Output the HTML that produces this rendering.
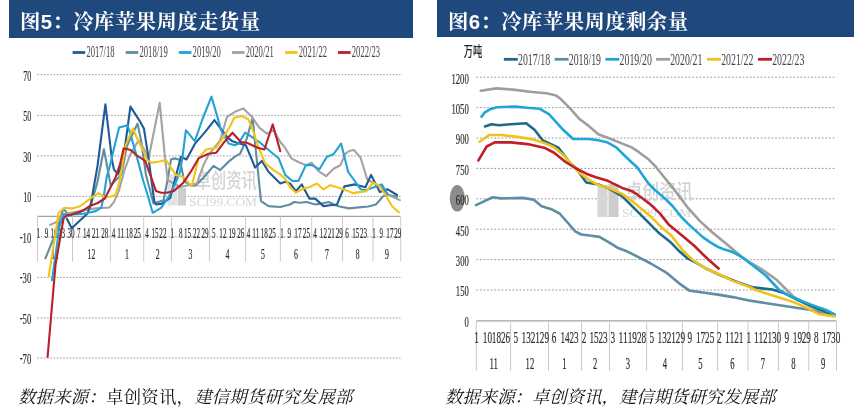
<!DOCTYPE html>
<html lang="zh-CN"><head><meta charset="utf-8"><title>冷库苹果周度走货量与剩余量</title>
<style>
html,body{margin:0;padding:0;background:#fff;}
body{width:856px;height:418px;position:relative;overflow:hidden;}
.banner{position:absolute;top:0;background:#1f497d;color:#fff;height:37.5px;}
.banner span{will-change:transform;position:absolute;top:10.2px;left:11px;white-space:nowrap;font-family:"Liberation Sans","Noto Serif CJK SC",serif;font-weight:bold;font-size:20.4px;line-height:24px;letter-spacing:0.4px;}
#b1{left:9px;width:404px;}
#b2{left:437px;width:417px;height:37.3px;}
svg{position:absolute;left:0;top:0;will-change:transform;}
.grid{stroke:#9a9a9a;stroke-width:1;stroke-dasharray:1.6 1.6;}
.grid2{stroke:#9a9a9a;stroke-width:1;stroke-dasharray:1.8 1.8;}
.axis{stroke:#a2a2a2;stroke-width:1.15;}
.sep{stroke:#c8c8c8;stroke-width:0.95;}
.ln{fill:none;stroke-width:2.1;stroke-linejoin:round;stroke-linecap:round;}
.ln2{fill:none;stroke-width:2.6;stroke-linejoin:round;stroke-linecap:round;}
.lg{stroke-width:2.8;}
text{font-family:"Liberation Serif","Noto Serif CJK SC",serif;fill:#2a2a2a;stroke:#2a2a2a;stroke-width:0.18px;}
.lgt{fill:#454545;stroke:none;}
.wmt,.wmt2,.wd{stroke:none;}
.wd{font-family:"Liberation Sans","Noto Sans CJK SC",sans-serif;font-weight:500;fill:#1a1a1a;}
.wm rect{fill:#cfcfcf;}
.wmt{font-family:"Liberation Sans","Noto Sans CJK SC",sans-serif;fill:#d3d3d3;font-weight:500;}
.wmt2{font-family:"Liberation Serif",serif;fill:#d6d6d6;}
.src{will-change:transform;position:absolute;top:387px;white-space:nowrap;font-family:"Liberation Serif","Noto Serif CJK SC",serif;font-size:17.4px;line-height:20px;color:#111;}
.src i{font-style:italic;}
</style></head>
<body>
<div class="banner" id="b1"><span>图5：冷库苹果周度走货量</span></div>
<div class="banner" id="b2"><span>图6：冷库苹果周度剩余量</span></div>
<svg width="856" height="418" viewBox="0 0 856 418">
<line x1="37.5" y1="74.7" x2="400.5" y2="74.7" class="grid"/>
<line x1="37.5" y1="115.3" x2="400.5" y2="115.3" class="grid"/>
<line x1="37.5" y1="155.9" x2="400.5" y2="155.9" class="grid"/>
<line x1="37.5" y1="196.4" x2="400.5" y2="196.4" class="grid"/>
<line x1="37.5" y1="236.9" x2="400.5" y2="236.9" class="grid"/>
<line x1="37.5" y1="277.4" x2="400.5" y2="277.4" class="grid"/>
<line x1="37.5" y1="317.9" x2="400.5" y2="317.9" class="grid"/>
<line x1="37.5" y1="358.0" x2="400.5" y2="358.0" class="grid"/>
<text x="31.3" y="80.5" text-anchor="end" font-size="15" class="n" textLength="8.1" lengthAdjust="spacingAndGlyphs">70</text>
<text x="31.3" y="121.1" text-anchor="end" font-size="15" class="n" textLength="8.1" lengthAdjust="spacingAndGlyphs">50</text>
<text x="31.3" y="161.7" text-anchor="end" font-size="15" class="n" textLength="8.1" lengthAdjust="spacingAndGlyphs">30</text>
<text x="31.3" y="202.2" text-anchor="end" font-size="15" class="n" textLength="8.1" lengthAdjust="spacingAndGlyphs">10</text>
<text x="31.3" y="242.7" text-anchor="end" font-size="15" class="n" textLength="11.6" lengthAdjust="spacingAndGlyphs"><tspan dy="-1.8">-</tspan><tspan dy="1.8">10</tspan></text>
<text x="31.3" y="283.2" text-anchor="end" font-size="15" class="n" textLength="11.6" lengthAdjust="spacingAndGlyphs"><tspan dy="-1.8">-</tspan><tspan dy="1.8">30</tspan></text>
<text x="31.3" y="323.7" text-anchor="end" font-size="15" class="n" textLength="11.6" lengthAdjust="spacingAndGlyphs"><tspan dy="-1.8">-</tspan><tspan dy="1.8">50</tspan></text>
<text x="31.3" y="363.8" text-anchor="end" font-size="15" class="n" textLength="11.6" lengthAdjust="spacingAndGlyphs"><tspan dy="-1.8">-</tspan><tspan dy="1.8">70</tspan></text>
<line x1="37.5" y1="216.3" x2="400.5" y2="216.3" class="axis"/>
<line x1="37.5" y1="216.3" x2="37.5" y2="261.5" class="sep"/>
<line x1="72.5" y1="216.3" x2="72.5" y2="261.5" class="sep"/>
<line x1="110.4" y1="216.3" x2="110.4" y2="261.5" class="sep"/>
<line x1="143.7" y1="216.3" x2="143.7" y2="261.5" class="sep"/>
<line x1="171.5" y1="216.3" x2="171.5" y2="261.5" class="sep"/>
<line x1="209.5" y1="216.3" x2="209.5" y2="261.5" class="sep"/>
<line x1="245.6" y1="216.3" x2="245.6" y2="261.5" class="sep"/>
<line x1="280.4" y1="216.3" x2="280.4" y2="261.5" class="sep"/>
<line x1="311.7" y1="216.3" x2="311.7" y2="261.5" class="sep"/>
<line x1="342.5" y1="216.3" x2="342.5" y2="261.5" class="sep"/>
<line x1="373" y1="216.3" x2="373" y2="261.5" class="sep"/>
<line x1="400.7" y1="216.3" x2="400.7" y2="261.5" class="sep"/>
<text x="38.6" y="237.6" text-anchor="middle" font-size="14.8" class="n" textLength="3.5" lengthAdjust="spacingAndGlyphs">1</text>
<text x="46.5" y="237.6" text-anchor="middle" font-size="14.8" class="n" textLength="3.5" lengthAdjust="spacingAndGlyphs">9</text>
<text x="54.0" y="237.6" text-anchor="middle" font-size="14.8" class="n" textLength="7.1" lengthAdjust="spacingAndGlyphs">16</text>
<text x="61.5" y="237.6" text-anchor="middle" font-size="14.8" class="n" textLength="7.1" lengthAdjust="spacingAndGlyphs">23</text>
<text x="71.0" y="237.6" text-anchor="middle" font-size="14.8" class="n" textLength="7.1" lengthAdjust="spacingAndGlyphs">30</text>
<text x="78.7" y="237.6" text-anchor="middle" font-size="14.8" class="n" textLength="3.5" lengthAdjust="spacingAndGlyphs">7</text>
<text x="86.6" y="237.6" text-anchor="middle" font-size="14.8" class="n" textLength="7.1" lengthAdjust="spacingAndGlyphs">14</text>
<text x="95.6" y="237.6" text-anchor="middle" font-size="14.8" class="n" textLength="7.1" lengthAdjust="spacingAndGlyphs">21</text>
<text x="104.8" y="237.6" text-anchor="middle" font-size="14.8" class="n" textLength="7.1" lengthAdjust="spacingAndGlyphs">28</text>
<text x="113.6" y="237.6" text-anchor="middle" font-size="14.8" class="n" textLength="3.5" lengthAdjust="spacingAndGlyphs">4</text>
<text x="120.8" y="237.6" text-anchor="middle" font-size="14.8" class="n" textLength="7.1" lengthAdjust="spacingAndGlyphs">11</text>
<text x="129.3" y="237.6" text-anchor="middle" font-size="14.8" class="n" textLength="7.1" lengthAdjust="spacingAndGlyphs">18</text>
<text x="137.2" y="237.6" text-anchor="middle" font-size="14.8" class="n" textLength="7.1" lengthAdjust="spacingAndGlyphs">25</text>
<text x="147.1" y="237.6" text-anchor="middle" font-size="14.8" class="n" textLength="3.5" lengthAdjust="spacingAndGlyphs">4</text>
<text x="155.0" y="237.6" text-anchor="middle" font-size="14.8" class="n" textLength="7.1" lengthAdjust="spacingAndGlyphs">15</text>
<text x="162.9" y="237.6" text-anchor="middle" font-size="14.8" class="n" textLength="7.1" lengthAdjust="spacingAndGlyphs">22</text>
<text x="172.2" y="237.6" text-anchor="middle" font-size="14.8" class="n" textLength="3.5" lengthAdjust="spacingAndGlyphs">1</text>
<text x="180.8" y="237.6" text-anchor="middle" font-size="14.8" class="n" textLength="3.5" lengthAdjust="spacingAndGlyphs">8</text>
<text x="187.6" y="237.6" text-anchor="middle" font-size="14.8" class="n" textLength="7.1" lengthAdjust="spacingAndGlyphs">15</text>
<text x="196.6" y="237.6" text-anchor="middle" font-size="14.8" class="n" textLength="7.1" lengthAdjust="spacingAndGlyphs">22</text>
<text x="205.1" y="237.6" text-anchor="middle" font-size="14.8" class="n" textLength="7.1" lengthAdjust="spacingAndGlyphs">29</text>
<text x="213.7" y="237.6" text-anchor="middle" font-size="14.8" class="n" textLength="3.5" lengthAdjust="spacingAndGlyphs">5</text>
<text x="222.9" y="237.6" text-anchor="middle" font-size="14.8" class="n" textLength="7.1" lengthAdjust="spacingAndGlyphs">12</text>
<text x="232.1" y="237.6" text-anchor="middle" font-size="14.8" class="n" textLength="7.1" lengthAdjust="spacingAndGlyphs">19</text>
<text x="240.7" y="237.6" text-anchor="middle" font-size="14.8" class="n" textLength="7.1" lengthAdjust="spacingAndGlyphs">26</text>
<text x="248.6" y="237.6" text-anchor="middle" font-size="14.8" class="n" textLength="3.5" lengthAdjust="spacingAndGlyphs">4</text>
<text x="255.8" y="237.6" text-anchor="middle" font-size="14.8" class="n" textLength="7.1" lengthAdjust="spacingAndGlyphs">11</text>
<text x="264.3" y="237.6" text-anchor="middle" font-size="14.8" class="n" textLength="7.1" lengthAdjust="spacingAndGlyphs">18</text>
<text x="272.2" y="237.6" text-anchor="middle" font-size="14.8" class="n" textLength="7.1" lengthAdjust="spacingAndGlyphs">25</text>
<text x="282.1" y="237.6" text-anchor="middle" font-size="14.8" class="n" textLength="3.5" lengthAdjust="spacingAndGlyphs">1</text>
<text x="289.3" y="237.6" text-anchor="middle" font-size="14.8" class="n" textLength="3.5" lengthAdjust="spacingAndGlyphs">9</text>
<text x="297.9" y="237.6" text-anchor="middle" font-size="14.8" class="n" textLength="7.1" lengthAdjust="spacingAndGlyphs">17</text>
<text x="306.4" y="237.6" text-anchor="middle" font-size="14.8" class="n" textLength="7.1" lengthAdjust="spacingAndGlyphs">25</text>
<text x="314.9" y="237.6" text-anchor="middle" font-size="14.8" class="n" textLength="3.5" lengthAdjust="spacingAndGlyphs">4</text>
<text x="323.4" y="237.6" text-anchor="middle" font-size="14.8" class="n" textLength="7.1" lengthAdjust="spacingAndGlyphs">12</text>
<text x="331.3" y="237.6" text-anchor="middle" font-size="14.8" class="n" textLength="7.1" lengthAdjust="spacingAndGlyphs">21</text>
<text x="339.2" y="237.6" text-anchor="middle" font-size="14.8" class="n" textLength="7.1" lengthAdjust="spacingAndGlyphs">29</text>
<text x="347.1" y="237.6" text-anchor="middle" font-size="14.8" class="n" textLength="3.5" lengthAdjust="spacingAndGlyphs">6</text>
<text x="355.7" y="237.6" text-anchor="middle" font-size="14.8" class="n" textLength="7.1" lengthAdjust="spacingAndGlyphs">15</text>
<text x="363.6" y="237.6" text-anchor="middle" font-size="14.8" class="n" textLength="7.1" lengthAdjust="spacingAndGlyphs">23</text>
<text x="374.1" y="237.6" text-anchor="middle" font-size="14.8" class="n" textLength="3.5" lengthAdjust="spacingAndGlyphs">1</text>
<text x="381.3" y="237.6" text-anchor="middle" font-size="14.8" class="n" textLength="3.5" lengthAdjust="spacingAndGlyphs">9</text>
<text x="389.9" y="237.6" text-anchor="middle" font-size="14.8" class="n" textLength="7.1" lengthAdjust="spacingAndGlyphs">17</text>
<text x="397.8" y="237.6" text-anchor="middle" font-size="14.8" class="n" textLength="7.1" lengthAdjust="spacingAndGlyphs">29</text>
<text x="55.0" y="258.7" text-anchor="middle" font-size="14.3" class="n" textLength="7.8" lengthAdjust="spacingAndGlyphs">11</text>
<text x="91.5" y="258.7" text-anchor="middle" font-size="14.3" class="n" textLength="7.8" lengthAdjust="spacingAndGlyphs">12</text>
<text x="127.0" y="258.7" text-anchor="middle" font-size="14.3" class="n" textLength="3.9" lengthAdjust="spacingAndGlyphs">1</text>
<text x="157.6" y="258.7" text-anchor="middle" font-size="14.3" class="n" textLength="3.9" lengthAdjust="spacingAndGlyphs">2</text>
<text x="190.5" y="258.7" text-anchor="middle" font-size="14.3" class="n" textLength="3.9" lengthAdjust="spacingAndGlyphs">3</text>
<text x="227.5" y="258.7" text-anchor="middle" font-size="14.3" class="n" textLength="3.9" lengthAdjust="spacingAndGlyphs">4</text>
<text x="263.0" y="258.7" text-anchor="middle" font-size="14.3" class="n" textLength="3.9" lengthAdjust="spacingAndGlyphs">5</text>
<text x="296.0" y="258.7" text-anchor="middle" font-size="14.3" class="n" textLength="3.9" lengthAdjust="spacingAndGlyphs">6</text>
<text x="327.0" y="258.7" text-anchor="middle" font-size="14.3" class="n" textLength="3.9" lengthAdjust="spacingAndGlyphs">7</text>
<text x="357.7" y="258.7" text-anchor="middle" font-size="14.3" class="n" textLength="3.9" lengthAdjust="spacingAndGlyphs">8</text>
<text x="387.0" y="258.7" text-anchor="middle" font-size="14.3" class="n" textLength="3.9" lengthAdjust="spacingAndGlyphs">9</text>
<rect x="167.5" y="174" width="10" height="31.5" fill="#e2e2e2"/><rect x="178" y="188" width="8" height="17.5" fill="#cdcdcd"/>
<text x="195.5" y="188" class="wmt" font-size="20.5" textLength="61.5" lengthAdjust="spacingAndGlyphs">卓创资讯</text>
<text x="189" y="205.8" class="wmt2" font-size="12.8" textLength="68" lengthAdjust="spacingAndGlyphs">SCI99.COM</text>
<polyline points="45.4,258.4 57.1,229.6 63.3,208.6 68.0,214.0 80.0,212.0 90.0,208.0 97.2,183.0 103.9,149.3 110.8,185.9 116.5,179.4 121.5,174.4 126.8,146.2 137.5,123.6 141.0,140.1 146.0,175.0 153.5,203.6 163.6,200.3 167.8,178.5 171.1,159.2 175.3,158.4 180.0,160.1 184.2,181.0 191.8,186.0 196.0,185.2 204.3,176.8 213.5,165.9 220.2,170.1 228.6,161.7 235.0,156.7 240.1,153.7 246.8,138.6 252.6,117.7 256.8,160.0 261.0,201.1 268.5,206.1 280.3,207.0 290.0,204.5 294.2,202.0 300.1,202.8 306.8,202.0 315.2,204.5 321.9,203.6 328.6,202.0 335.3,205.3 339.6,206.5 349.1,208.4 358.7,207.4 368.3,206.5 375.9,204.5 383.6,195.9 387.4,194.4 397.0,197.0" stroke="#5f8da2" class="ln"/>
<polyline points="50.1,224.9 57.1,221.8 63.3,214.5 70.8,212.9 83.4,210.2 95.9,208.4 109.4,207.5 113.9,202.1 119.0,190.3 124.3,170.7 130.0,155.0 138.5,140.2 143.6,148.3 148.5,158.7 159.7,102.8 165.2,160.0 167.8,180.2 173.6,183.5 180.0,186.9 185.1,186.0 196.8,183.5 203.5,165.1 208.5,155.0 220.2,140.3 227.0,116.8 235.0,111.8 243.4,108.4 251.8,116.8 259.3,127.7 266.9,133.6 273.6,130.2 280.3,142.0 285.0,147.7 291.7,158.6 298.4,162.0 305.9,165.3 311.8,162.8 318.5,171.2 326.1,176.2 333.6,168.7 340.3,165.3 345.3,153.8 349.1,151.0 353.9,150.0 360.6,157.7 367.3,179.7 373.1,182.5 381.7,187.3 388.4,195.0 399.9,200.1" stroke="#a3a3a3" class="ln"/>
<polyline points="66.9,218.7 71.7,228.3 87.5,213.5 91.0,203.0 97.5,166.0 105.4,104.3 112.0,160.0 113.9,169.4 118.0,174.4 123.0,161.5 130.4,106.6 140.0,121.4 143.9,128.4 148.5,157.9 154.4,202.0 156.0,204.5 161.9,203.6 170.3,197.8 180.9,156.7 186.5,159.5 195.1,143.6 205.2,131.9 214.4,120.2 221.9,130.2 227.0,136.9 232.0,141.1 236.7,142.8 245.9,145.3 250.1,155.4 255.1,167.6 261.8,160.9 268.5,171.8 280.3,183.5 285.3,181.8 290.0,183.5 295.9,191.1 301.8,184.4 309.3,198.6 315.2,198.6 323.5,206.1 330.2,205.3 337.0,204.5 344.4,186.4 354.9,184.4 365.4,187.3 371.1,174.9 379.8,192.1 387.4,189.2 397.0,195.0" stroke="#1f5b96" class="ln"/>
<polyline points="52.0,280.2 59.6,226.0 64.0,214.0 68.0,216.0 72.0,214.5 83.4,213.8 95.9,211.1 101.3,207.5 104.0,194.9 106.7,176.9 110.3,164.4 113.6,150.0 119.1,127.6 127.6,125.3 129.9,132.3 136.9,157.1 143.5,181.8 147.7,195.2 152.7,212.8 161.1,207.8 168.6,196.9 175.3,183.5 180.0,171.8 182.5,157.0 185.9,130.2 194.8,141.1 202.7,118.5 211.5,96.7 216.9,115.1 221.1,130.2 228.6,143.6 235.0,145.3 238.4,143.6 245.1,132.7 251.8,136.9 259.3,142.0 265.2,147.0 271.9,152.8 278.6,158.2 285.3,175.1 292.5,181.0 298.4,181.0 305.9,165.1 311.8,165.1 319.4,169.3 326.9,156.7 333.6,154.2 341.1,143.5 348.2,172.0 360.6,189.2 365.4,190.2 374.0,187.3 381.7,184.4 387.4,194.0" stroke="#22a2d6" class="ln"/>
<polyline points="48.8,276.0 58.7,212.5 64.9,207.8 72.7,208.6 80.0,206.2 83.4,203.9 91.4,197.6 98.6,193.1 104.0,196.7 110.3,196.7 115.7,194.9 119.3,182.3 122.4,165.0 125.3,146.2 133.0,128.4 138.5,141.6 145.0,154.0 146.8,160.1 151.8,162.6 158.5,161.7 166.1,160.1 170.3,166.8 176.1,175.1 182.5,176.8 191.8,186.0 198.5,158.4 206.0,149.5 210.2,148.7 216.1,147.8 223.6,136.9 230.3,126.0 234.2,117.7 241.7,116.0 248.4,119.3 253.5,131.9 257.7,145.3 265.2,163.4 273.6,170.1 280.3,174.3 285.3,179.3 290.0,186.9 295.9,192.7 303.4,188.5 310.1,186.9 316.8,183.5 323.5,189.4 330.2,185.2 334.8,186.4 343.4,189.2 353.0,193.1 366.4,191.1 373.1,182.5 378.8,185.4 385.5,195.0 392.2,206.5 398.9,212.2" stroke="#f2c318" class="ln"/>
<polyline points="47.6,357.0 55.5,265.0 63.6,218.3 67.2,215.0 71.1,214.8 80.0,211.7 83.4,210.2 90.5,205.7 97.7,203.0 104.9,198.5 110.3,187.7 115.7,176.9 120.0,164.4 123.7,148.3 130.7,150.1 137.0,155.5 145.1,160.9 151.0,176.8 156.0,191.1 161.1,192.7 166.9,192.7 173.6,191.1 183.4,182.7 191.8,170.1 198.5,158.4 208.5,153.7 216.1,152.8 223.6,142.8 232.5,132.7 240.9,142.0 246.8,142.8 257.7,147.8 264.4,149.5 272.7,124.4 280.3,151.2" stroke="#b8202a" class="ln"/>
<line x1="72.6" y1="52.5" x2="85.19999999999999" y2="52.5" stroke="#1f5b96" class="lg"/>
<text x="86.4" y="56.9" text-anchor="start" font-size="16.2" class="lgt" textLength="28.2" lengthAdjust="spacingAndGlyphs">2017/18</text>
<line x1="125.7" y1="52.5" x2="138.3" y2="52.5" stroke="#5f8da2" class="lg"/>
<text x="139.5" y="56.9" text-anchor="start" font-size="16.2" class="lgt" textLength="28.2" lengthAdjust="spacingAndGlyphs">2018/19</text>
<line x1="178.8" y1="52.5" x2="191.4" y2="52.5" stroke="#22a2d6" class="lg"/>
<text x="192.6" y="56.9" text-anchor="start" font-size="16.2" class="lgt" textLength="28.2" lengthAdjust="spacingAndGlyphs">2019/20</text>
<line x1="231.9" y1="52.5" x2="244.5" y2="52.5" stroke="#a3a3a3" class="lg"/>
<text x="245.7" y="56.9" text-anchor="start" font-size="16.2" class="lgt" textLength="28.2" lengthAdjust="spacingAndGlyphs">2020/21</text>
<line x1="285" y1="52.5" x2="297.6" y2="52.5" stroke="#f2c318" class="lg"/>
<text x="298.8" y="56.9" text-anchor="start" font-size="16.2" class="lgt" textLength="28.2" lengthAdjust="spacingAndGlyphs">2021/22</text>
<line x1="338" y1="52.5" x2="350.6" y2="52.5" stroke="#b8202a" class="lg"/>
<text x="351.8" y="56.9" text-anchor="start" font-size="16.2" class="lgt" textLength="28.2" lengthAdjust="spacingAndGlyphs">2022/23</text>
<line x1="476.3" y1="77.2" x2="836" y2="77.2" class="grid2"/>
<line x1="476.3" y1="107.6" x2="836" y2="107.6" class="grid2"/>
<line x1="476.3" y1="138.0" x2="836" y2="138.0" class="grid2"/>
<line x1="476.3" y1="168.4" x2="836" y2="168.4" class="grid2"/>
<line x1="476.3" y1="198.8" x2="836" y2="198.8" class="grid2"/>
<line x1="476.3" y1="229.2" x2="836" y2="229.2" class="grid2"/>
<line x1="476.3" y1="259.6" x2="836" y2="259.6" class="grid2"/>
<line x1="476.3" y1="290.0" x2="836" y2="290.0" class="grid2"/>
<ellipse cx="457.3" cy="198.3" rx="7.6" ry="13.2" fill="#8c8c8c"/>
<text x="468.8" y="83.5" text-anchor="end" font-size="15" class="n" textLength="17.4" lengthAdjust="spacingAndGlyphs">1200</text>
<text x="468.8" y="113.9" text-anchor="end" font-size="15" class="n" textLength="17.4" lengthAdjust="spacingAndGlyphs">1050</text>
<text x="468.8" y="144.3" text-anchor="end" font-size="15" class="n" textLength="13.0" lengthAdjust="spacingAndGlyphs">900</text>
<text x="468.8" y="174.7" text-anchor="end" font-size="15" class="n" textLength="13.0" lengthAdjust="spacingAndGlyphs">750</text>
<text x="468.8" y="205.1" text-anchor="end" font-size="15" class="n" textLength="13.0" lengthAdjust="spacingAndGlyphs">600</text>
<text x="468.8" y="235.5" text-anchor="end" font-size="15" class="n" textLength="13.0" lengthAdjust="spacingAndGlyphs">450</text>
<text x="468.8" y="265.9" text-anchor="end" font-size="15" class="n" textLength="13.0" lengthAdjust="spacingAndGlyphs">300</text>
<text x="468.8" y="296.3" text-anchor="end" font-size="15" class="n" textLength="13.0" lengthAdjust="spacingAndGlyphs">150</text>
<text x="468.8" y="326.7" text-anchor="end" font-size="15" class="n" textLength="4.3" lengthAdjust="spacingAndGlyphs">0</text>
<line x1="476.3" y1="320.9" x2="836" y2="320.9" class="axis"/>
<line x1="476.3" y1="320.9" x2="476.3" y2="370.8" class="sep"/>
<line x1="510.6" y1="320.9" x2="510.6" y2="370.8" class="sep"/>
<line x1="548.5" y1="320.9" x2="548.5" y2="370.8" class="sep"/>
<line x1="581.5" y1="320.9" x2="581.5" y2="370.8" class="sep"/>
<line x1="609.5" y1="320.9" x2="609.5" y2="370.8" class="sep"/>
<line x1="646.6" y1="320.9" x2="646.6" y2="370.8" class="sep"/>
<line x1="682.5" y1="320.9" x2="682.5" y2="370.8" class="sep"/>
<line x1="717.5" y1="320.9" x2="717.5" y2="370.8" class="sep"/>
<line x1="747.9" y1="320.9" x2="747.9" y2="370.8" class="sep"/>
<line x1="778.5" y1="320.9" x2="778.5" y2="370.8" class="sep"/>
<line x1="808.7" y1="320.9" x2="808.7" y2="370.8" class="sep"/>
<line x1="836.5" y1="320.9" x2="836.5" y2="370.8" class="sep"/>
<text x="476.5" y="343.3" text-anchor="middle" font-size="17.5" class="n" textLength="4.6" lengthAdjust="spacingAndGlyphs">1</text>
<text x="487.4" y="343.3" text-anchor="middle" font-size="17.5" class="n" textLength="9.2" lengthAdjust="spacingAndGlyphs">10</text>
<text x="496.4" y="343.3" text-anchor="middle" font-size="17.5" class="n" textLength="9.2" lengthAdjust="spacingAndGlyphs">18</text>
<text x="505.6" y="343.3" text-anchor="middle" font-size="17.5" class="n" textLength="9.2" lengthAdjust="spacingAndGlyphs">26</text>
<text x="515.7" y="343.3" text-anchor="middle" font-size="17.5" class="n" textLength="4.6" lengthAdjust="spacingAndGlyphs">5</text>
<text x="526.2" y="343.3" text-anchor="middle" font-size="17.5" class="n" textLength="9.2" lengthAdjust="spacingAndGlyphs">13</text>
<text x="535.3" y="343.3" text-anchor="middle" font-size="17.5" class="n" textLength="9.2" lengthAdjust="spacingAndGlyphs">21</text>
<text x="544.4" y="343.3" text-anchor="middle" font-size="17.5" class="n" textLength="9.2" lengthAdjust="spacingAndGlyphs">29</text>
<text x="554.1" y="343.3" text-anchor="middle" font-size="17.5" class="n" textLength="4.6" lengthAdjust="spacingAndGlyphs">6</text>
<text x="565.1" y="343.3" text-anchor="middle" font-size="17.5" class="n" textLength="9.2" lengthAdjust="spacingAndGlyphs">14</text>
<text x="574.0" y="343.3" text-anchor="middle" font-size="17.5" class="n" textLength="9.2" lengthAdjust="spacingAndGlyphs">23</text>
<text x="584.0" y="343.3" text-anchor="middle" font-size="17.5" class="n" textLength="4.6" lengthAdjust="spacingAndGlyphs">2</text>
<text x="594.0" y="343.3" text-anchor="middle" font-size="17.5" class="n" textLength="9.2" lengthAdjust="spacingAndGlyphs">15</text>
<text x="603.0" y="343.3" text-anchor="middle" font-size="17.5" class="n" textLength="9.2" lengthAdjust="spacingAndGlyphs">23</text>
<text x="612.7" y="343.3" text-anchor="middle" font-size="17.5" class="n" textLength="4.6" lengthAdjust="spacingAndGlyphs">3</text>
<text x="623.1" y="343.3" text-anchor="middle" font-size="17.5" class="n" textLength="9.2" lengthAdjust="spacingAndGlyphs">11</text>
<text x="632.3" y="343.3" text-anchor="middle" font-size="17.5" class="n" textLength="9.2" lengthAdjust="spacingAndGlyphs">19</text>
<text x="641.6" y="343.3" text-anchor="middle" font-size="17.5" class="n" textLength="9.2" lengthAdjust="spacingAndGlyphs">28</text>
<text x="651.7" y="343.3" text-anchor="middle" font-size="17.5" class="n" textLength="4.6" lengthAdjust="spacingAndGlyphs">5</text>
<text x="662.2" y="343.3" text-anchor="middle" font-size="17.5" class="n" textLength="9.2" lengthAdjust="spacingAndGlyphs">13</text>
<text x="671.3" y="343.3" text-anchor="middle" font-size="17.5" class="n" textLength="9.2" lengthAdjust="spacingAndGlyphs">21</text>
<text x="680.4" y="343.3" text-anchor="middle" font-size="17.5" class="n" textLength="9.2" lengthAdjust="spacingAndGlyphs">29</text>
<text x="689.9" y="343.3" text-anchor="middle" font-size="17.5" class="n" textLength="4.6" lengthAdjust="spacingAndGlyphs">9</text>
<text x="700.5" y="343.3" text-anchor="middle" font-size="17.5" class="n" textLength="9.2" lengthAdjust="spacingAndGlyphs">17</text>
<text x="709.7" y="343.3" text-anchor="middle" font-size="17.5" class="n" textLength="9.2" lengthAdjust="spacingAndGlyphs">25</text>
<text x="719.4" y="343.3" text-anchor="middle" font-size="17.5" class="n" textLength="4.6" lengthAdjust="spacingAndGlyphs">2</text>
<text x="729.7" y="343.3" text-anchor="middle" font-size="17.5" class="n" textLength="9.2" lengthAdjust="spacingAndGlyphs">11</text>
<text x="738.8" y="343.3" text-anchor="middle" font-size="17.5" class="n" textLength="9.2" lengthAdjust="spacingAndGlyphs">21</text>
<text x="748.8" y="343.3" text-anchor="middle" font-size="17.5" class="n" textLength="4.6" lengthAdjust="spacingAndGlyphs">1</text>
<text x="758.7" y="343.3" text-anchor="middle" font-size="17.5" class="n" textLength="9.2" lengthAdjust="spacingAndGlyphs">11</text>
<text x="767.6" y="343.3" text-anchor="middle" font-size="17.5" class="n" textLength="9.2" lengthAdjust="spacingAndGlyphs">21</text>
<text x="776.6" y="343.3" text-anchor="middle" font-size="17.5" class="n" textLength="9.2" lengthAdjust="spacingAndGlyphs">30</text>
<text x="786.7" y="343.3" text-anchor="middle" font-size="17.5" class="n" textLength="4.6" lengthAdjust="spacingAndGlyphs">9</text>
<text x="797.4" y="343.3" text-anchor="middle" font-size="17.5" class="n" textLength="9.2" lengthAdjust="spacingAndGlyphs">19</text>
<text x="806.3" y="343.3" text-anchor="middle" font-size="17.5" class="n" textLength="9.2" lengthAdjust="spacingAndGlyphs">29</text>
<text x="816.4" y="343.3" text-anchor="middle" font-size="17.5" class="n" textLength="4.6" lengthAdjust="spacingAndGlyphs">8</text>
<text x="826.6" y="343.3" text-anchor="middle" font-size="17.5" class="n" textLength="9.2" lengthAdjust="spacingAndGlyphs">17</text>
<text x="835.7" y="343.3" text-anchor="middle" font-size="17.5" class="n" textLength="9.2" lengthAdjust="spacingAndGlyphs">30</text>
<text x="493.7" y="369.0" text-anchor="middle" font-size="16.8" class="n" textLength="8.6" lengthAdjust="spacingAndGlyphs">11</text>
<text x="529.9" y="369.0" text-anchor="middle" font-size="16.8" class="n" textLength="8.6" lengthAdjust="spacingAndGlyphs">12</text>
<text x="564.4" y="369.0" text-anchor="middle" font-size="16.8" class="n" textLength="4.3" lengthAdjust="spacingAndGlyphs">1</text>
<text x="595.1" y="369.0" text-anchor="middle" font-size="16.8" class="n" textLength="4.3" lengthAdjust="spacingAndGlyphs">2</text>
<text x="628.0" y="369.0" text-anchor="middle" font-size="16.8" class="n" textLength="4.3" lengthAdjust="spacingAndGlyphs">3</text>
<text x="664.9" y="369.0" text-anchor="middle" font-size="16.8" class="n" textLength="4.3" lengthAdjust="spacingAndGlyphs">4</text>
<text x="700.3" y="369.0" text-anchor="middle" font-size="16.8" class="n" textLength="4.3" lengthAdjust="spacingAndGlyphs">5</text>
<text x="732.4" y="369.0" text-anchor="middle" font-size="16.8" class="n" textLength="4.3" lengthAdjust="spacingAndGlyphs">6</text>
<text x="762.8" y="369.0" text-anchor="middle" font-size="16.8" class="n" textLength="4.3" lengthAdjust="spacingAndGlyphs">7</text>
<text x="793.4" y="369.0" text-anchor="middle" font-size="16.8" class="n" textLength="4.3" lengthAdjust="spacingAndGlyphs">8</text>
<text x="823.1" y="369.0" text-anchor="middle" font-size="16.8" class="n" textLength="4.3" lengthAdjust="spacingAndGlyphs">9</text>
<rect x="597.5" y="185" width="10" height="32" fill="#d6d6d6"/><rect x="608.5" y="184" width="10" height="33" fill="#cccccc"/>
<text x="625.5" y="199" class="wmt" font-size="20" textLength="67.5" lengthAdjust="spacingAndGlyphs">卓创资讯</text>
<text x="622" y="216.6" class="wmt2" font-size="13.5" textLength="69.5" lengthAdjust="spacingAndGlyphs">SCI99.COM</text>
<polyline points="476.0,205.1 492.7,197.2 501.1,198.4 522.6,197.9 533.4,199.6 541.7,206.3 551.3,209.2 559.6,213.5 568.0,223.0 575.2,231.4 581.2,234.5 589.5,235.5 599.4,236.9 607.8,241.7 617.4,247.7 626.9,251.3 638.9,257.3 650.8,263.5 665.9,272.3 678.8,283.1 689.5,290.6 704.6,292.8 719.7,294.9 732.6,297.1 747.7,300.3 768.0,303.5 783.0,305.7 796.0,307.8 811.0,310.0 826.1,313.2 834.7,314.9" stroke="#5e8ea4" class="ln2"/>
<polyline points="480.8,90.8 496.3,88.4 513.0,89.6 532.2,92.0 546.5,93.2 556.1,95.6 560.0,98.4 569.6,107.9 579.1,118.7 588.7,125.9 598.3,134.2 607.8,137.8 619.8,142.6 631.7,147.4 638.9,152.2 648.5,159.3 655.6,166.5 665.2,178.5 673.9,189.1 688.2,208.2 700.2,221.4 712.2,232.2 726.5,244.1 740.8,256.1 748.6,261.5 761.5,269.1 776.6,279.8 793.8,297.0 808.9,305.7 821.8,311.0 834.7,315.3" stroke="#9e9e9e" class="ln2"/>
<polyline points="485.0,126.4 491.5,124.2 499.0,125.2 510.9,124.2 526.2,123.2 534.5,129.8 542.9,140.5 558.5,147.7 570.4,163.2 576.7,168.9 586.3,182.5 598.3,184.5 607.8,187.9 622.2,196.3 634.1,208.2 646.1,220.2 658.0,232.2 670.0,241.7 679.9,251.8 687.4,258.3 696.0,262.6 705.0,268.0 720.0,275.0 740.0,283.1 752.9,287.4 772.3,289.5 783.0,292.7 796.0,299.2 811.0,305.7 826.1,312.1 834.7,315.3" stroke="#1d6b8c" class="ln2"/>
<polyline points="481.5,116.8 484.5,112.7 490.0,109.3 497.0,107.3 515.4,106.6 527.4,107.8 539.3,108.7 548.9,114.2 563.2,129.8 573.1,139.0 588.7,139.0 598.3,140.2 607.8,142.6 616.2,147.4 624.5,155.5 631.5,162.2 637.2,167.2 643.0,175.8 648.7,183.7 654.4,189.5 660.2,194.5 665.9,199.5 673.0,206.5 681.5,217.2 688.7,224.4 695.9,230.9 703.1,237.4 710.3,242.4 717.5,246.7 724.7,249.6 731.8,251.7 740.0,256.0 747.7,261.5 765.8,275.5 778.8,289.5 791.7,297.0 811.0,304.6 826.1,310.0 834.7,314.3" stroke="#1fa6d6" class="ln2"/>
<polyline points="479.6,141.7 489.1,135.0 501.1,135.0 517.8,136.9 532.2,139.3 544.1,142.9 553.7,147.0 563.2,154.9 572.8,165.6 579.1,172.5 588.7,179.6 598.3,185.1 607.8,187.5 622.2,193.9 636.5,204.7 650.8,216.6 662.8,228.6 671.5,235.7 683.3,251.0 693.0,260.0 704.6,268.0 719.7,274.5 732.6,280.9 747.7,286.3 757.2,290.6 774.4,296.0 791.7,301.4 806.7,307.8 819.7,314.3 834.7,316.4" stroke="#f0c21a" class="ln2"/>
<polyline points="478.4,160.4 486.7,146.5 495.1,142.2 510.6,142.4 527.4,144.1 544.1,147.7 553.7,152.5 565.6,162.0 575.2,168.0 586.3,173.7 595.9,177.3 607.8,180.8 622.2,187.9 631.5,190.9 637.2,194.5 643.0,198.8 648.7,203.1 654.4,208.1 660.0,213.6 668.6,224.4 677.2,231.6 685.9,238.8 694.5,246.0 701.7,253.2 708.9,260.0 718.6,268.5" stroke="#be2028" class="ln2"/>
<text x="463.8" y="56.2" font-size="14" class="wd" textLength="18.4" lengthAdjust="spacingAndGlyphs">万吨</text>
<line x1="503.8" y1="59.3" x2="517.8" y2="59.3" stroke="#1d6b8c" class="lg"/>
<text x="518.0" y="65.3" text-anchor="start" font-size="17.4" class="lgt" textLength="32.2" lengthAdjust="spacingAndGlyphs">2017/18</text>
<line x1="554.6" y1="59.3" x2="568.6" y2="59.3" stroke="#5e8ea4" class="lg"/>
<text x="568.8" y="65.3" text-anchor="start" font-size="17.4" class="lgt" textLength="32.2" lengthAdjust="spacingAndGlyphs">2018/19</text>
<line x1="605.4" y1="59.3" x2="619.4" y2="59.3" stroke="#1fa6d6" class="lg"/>
<text x="619.6" y="65.3" text-anchor="start" font-size="17.4" class="lgt" textLength="32.2" lengthAdjust="spacingAndGlyphs">2019/20</text>
<line x1="656" y1="59.3" x2="670" y2="59.3" stroke="#9e9e9e" class="lg"/>
<text x="670.2" y="65.3" text-anchor="start" font-size="17.4" class="lgt" textLength="32.2" lengthAdjust="spacingAndGlyphs">2020/21</text>
<line x1="707" y1="59.3" x2="721" y2="59.3" stroke="#f0c21a" class="lg"/>
<text x="721.2" y="65.3" text-anchor="start" font-size="17.4" class="lgt" textLength="32.2" lengthAdjust="spacingAndGlyphs">2021/22</text>
<line x1="758" y1="59.3" x2="772" y2="59.3" stroke="#be2028" class="lg"/>
<text x="772.2" y="65.3" text-anchor="start" font-size="17.4" class="lgt" textLength="32.2" lengthAdjust="spacingAndGlyphs">2022/23</text>
</svg>
<div class="src" style="left:17.5px;letter-spacing:0.22px"><i>数据来源：</i>卓创资讯，<i>建信期货研究发展部</i></div>
<div class="src" style="left:444.8px"><i>数据来源：卓创资讯，建信期货研究发展部</i></div>
</body></html>
